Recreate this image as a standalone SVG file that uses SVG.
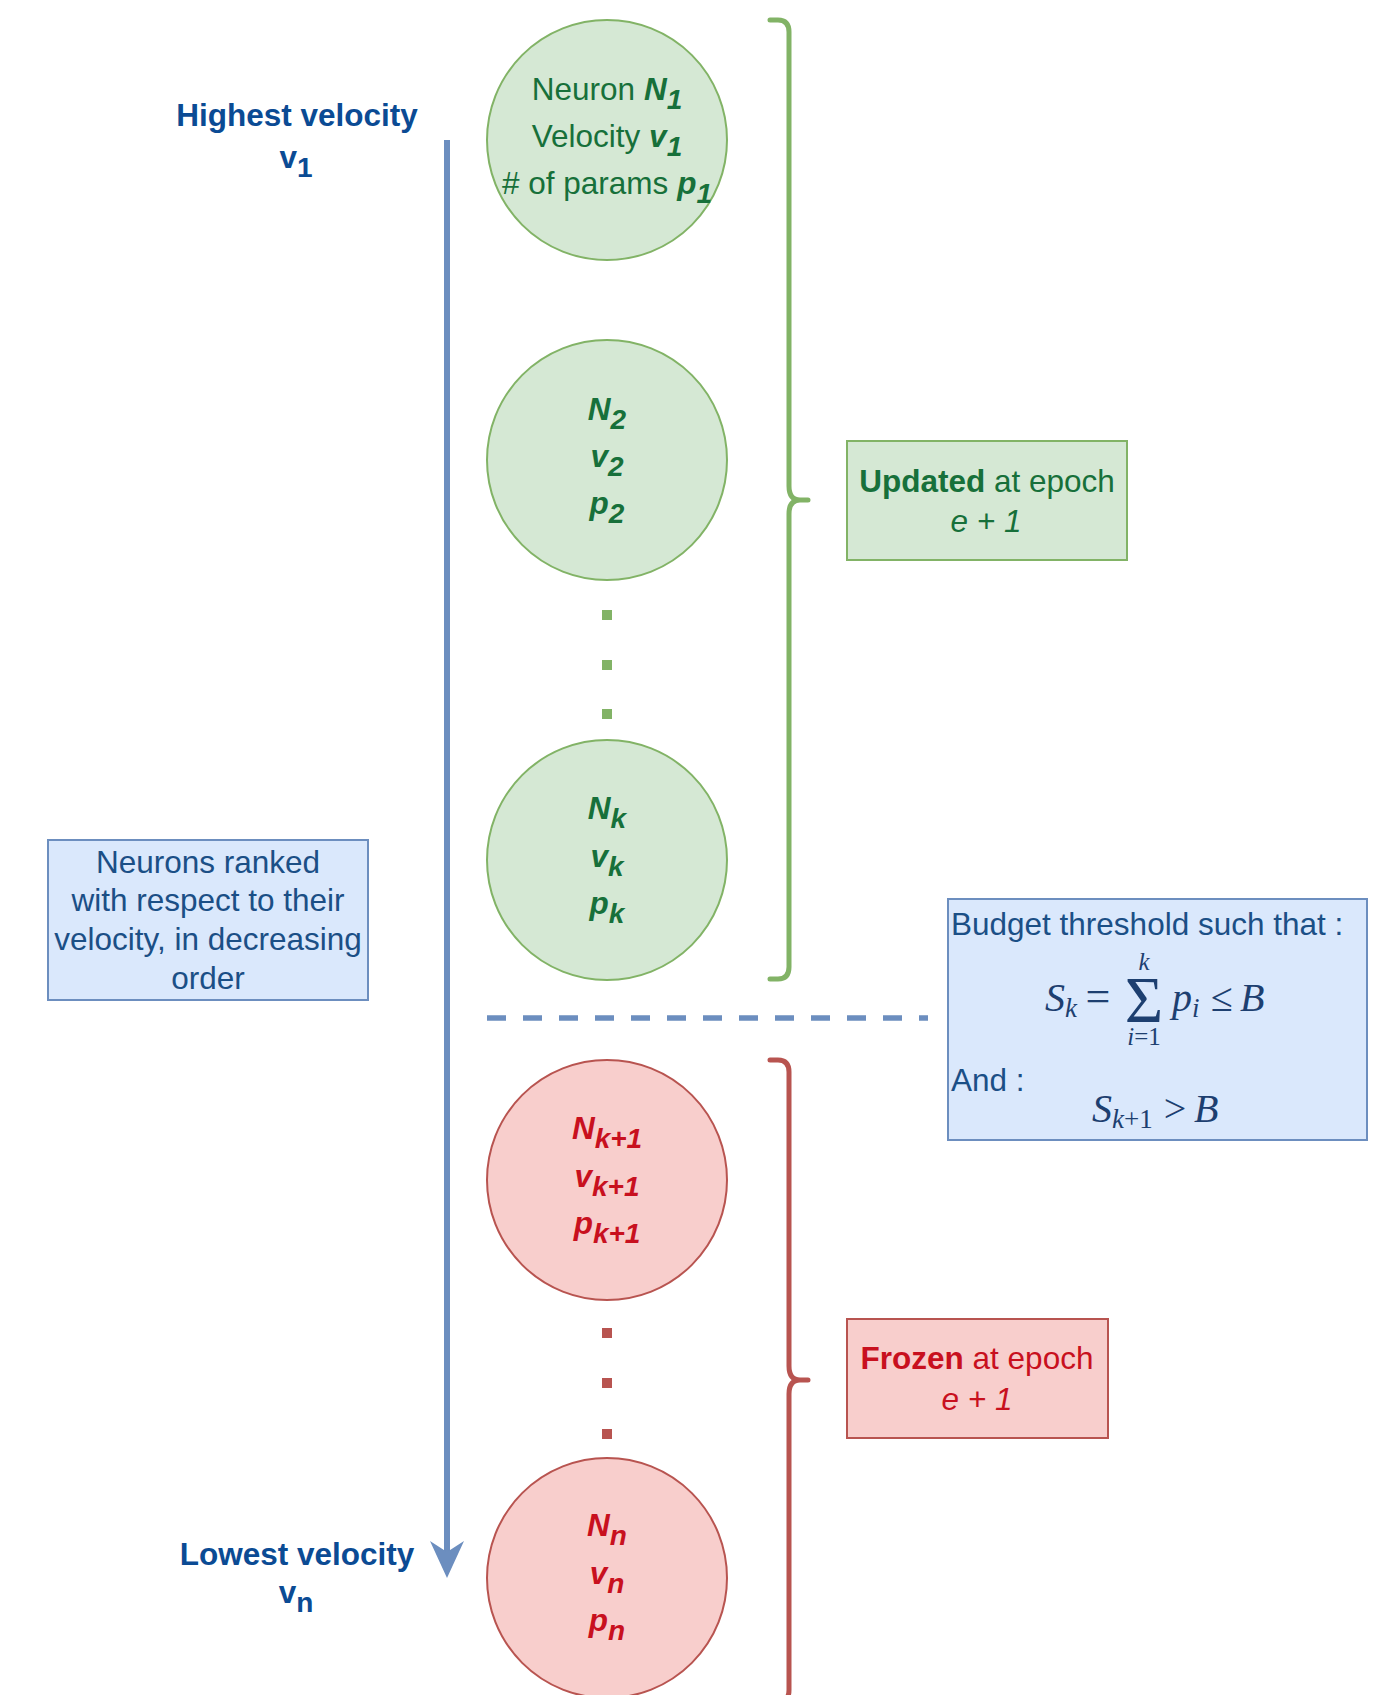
<svg xmlns="http://www.w3.org/2000/svg" width="1380" height="1695" viewBox="0 0 1380 1695">
  <style>
    .t{font-family:"Liberation Sans",Arial,sans-serif;font-size:31.5px}
    .c{text-anchor:middle}
    .g{fill:#17703a}
    .r{fill:#c8101e}
    .b{fill:#0b4b94}
    .bl{fill:#1b4f86}
    .bi{font-weight:bold;font-style:italic}
    .bo{font-weight:bold}
    .it{font-style:italic}
    .sub{font-size:28px}
    .m{font-family:"Liberation Serif","Times New Roman",serif;fill:#1d3f70;font-size:40px}
    .mi{font-style:italic}
    .ms{font-size:27px}
    .mlim{font-size:25px}
    .msum{font-size:66px}
    .meq{font-size:44px}
    .ngreen{fill:#d5e8d4;stroke:#82b366;stroke-width:2}
    .nred{fill:#f8cecc;stroke:#b85450;stroke-width:2}
    .bgreen{fill:#d5e8d4;stroke:#82b366;stroke-width:2}
    .bred{fill:#f8cecc;stroke:#b85450;stroke-width:2}
    .bblue{fill:#dae8fc;stroke:#6c8ebf;stroke-width:2}
    .brace{fill:none;stroke-width:5;stroke-linecap:round;stroke-linejoin:round}
  </style>

  <!-- ranking axis, threshold line and braces -->
  <g id="connectors">
    <line x1="447" y1="140" x2="447" y2="1552" stroke="#6c8ebf" stroke-width="6"/>
    <polygon points="430,1541 447,1552 464,1541 447,1578" fill="#6c8ebf"/>
    <line x1="487" y1="1018" x2="928" y2="1018" stroke="#6c8ebf" stroke-width="5.5" stroke-dasharray="19 17"/>
    <path class="brace" stroke="#82b366" d="M770,20 H778 Q789,20 789,32 V486 Q789,500 800,500 H808 M800,500 Q789,500 789,514 V967 Q789,979 778,979 H770"/>
    <path class="brace" stroke="#b85450" d="M770,1060 H778 Q789,1060 789,1072 V1366 Q789,1380 800,1380 H808 M800,1380 Q789,1380 789,1394 V1690 Q789,1702 778,1702 H770"/>
  </g>

  <g id="label-highest">
    <text class="t c b bo" x="297" y="126">Highest velocity</text>
    <text class="t c b bo" x="296" y="168">v<tspan class="sub" dy="9">1</tspan></text>
  </g>

  <g id="label-lowest">
    <text class="t c b bo" x="297" y="1565">Lowest velocity</text>
    <text class="t c b bo" x="296" y="1603">v<tspan class="sub" dy="9">n</tspan></text>
  </g>

  <g id="neuron-1">
    <circle class="ngreen" cx="607" cy="140" r="120"/>
    <text class="t c g" x="607" y="100">Neuron <tspan class="bi">N</tspan><tspan class="bi sub" dy="9">1</tspan></text>
    <text class="t c g" x="607" y="147">Velocity <tspan class="bi">v</tspan><tspan class="bi sub" dy="9">1</tspan></text>
    <text class="t c g" x="607" y="194"># of params <tspan class="bi">p</tspan><tspan class="bi sub" dy="9">1</tspan></text>
  </g>

  <g id="neuron-2">
    <circle class="ngreen" cx="607" cy="460" r="120"/>
    <text class="t c g bi" x="607" y="420">N<tspan class="sub" dy="9">2</tspan></text>
    <text class="t c g bi" x="607" y="467">v<tspan class="sub" dy="9">2</tspan></text>
    <text class="t c g bi" x="607" y="514">p<tspan class="sub" dy="9">2</tspan></text>
  </g>

  <g id="dots-green" fill="#82b366">
    <rect x="602" y="610" width="10" height="10"/>
    <rect x="602" y="660" width="10" height="10"/>
    <rect x="602" y="709" width="10" height="10"/>
  </g>

  <g id="neuron-k">
    <circle class="ngreen" cx="607" cy="860" r="120"/>
    <text class="t c g bi" x="607" y="819">N<tspan class="sub" dy="9">k</tspan></text>
    <text class="t c g bi" x="607" y="867">v<tspan class="sub" dy="9">k</tspan></text>
    <text class="t c g bi" x="607" y="914">p<tspan class="sub" dy="9">k</tspan></text>
  </g>

  <g id="neuron-k1">
    <circle class="nred" cx="607" cy="1180" r="120"/>
    <text class="t c r bi" x="607" y="1139">N<tspan class="sub" dy="9">k+1</tspan></text>
    <text class="t c r bi" x="607" y="1187">v<tspan class="sub" dy="9">k+1</tspan></text>
    <text class="t c r bi" x="607" y="1234">p<tspan class="sub" dy="9">k+1</tspan></text>
  </g>

  <g id="dots-red" fill="#b85450">
    <rect x="602" y="1328" width="10" height="10"/>
    <rect x="602" y="1378" width="10" height="10"/>
    <rect x="602" y="1429" width="10" height="10"/>
  </g>

  <g id="neuron-n">
    <circle class="nred" cx="607" cy="1578" r="120"/>
    <text class="t c r bi" x="607" y="1536">N<tspan class="sub" dy="9">n</tspan></text>
    <text class="t c r bi" x="607" y="1584">v<tspan class="sub" dy="9">n</tspan></text>
    <text class="t c r bi" x="607" y="1631">p<tspan class="sub" dy="9">n</tspan></text>
  </g>

  <g id="updated-box">
    <rect class="bgreen" x="847" y="441" width="280" height="119"/>
    <text class="t c g" x="987" y="492"><tspan class="bo">Updated</tspan> at epoch</text>
    <text class="t c g it" x="986" y="532">e + 1</text>
  </g>

  <g id="frozen-box">
    <rect class="bred" x="847" y="1319" width="261" height="119"/>
    <text class="t c r" x="977" y="1369"><tspan class="bo">Frozen</tspan> at epoch</text>
    <text class="t c r it" x="977" y="1410">e + 1</text>
  </g>

  <g id="ranking-note">
    <rect class="bblue" x="48" y="840" width="320" height="160"/>
    <text class="t c bl" x="208" y="873">Neurons ranked</text>
    <text class="t c bl" x="208" y="911">with respect to their</text>
    <text class="t c bl" x="208" y="950">velocity, in decreasing</text>
    <text class="t c bl" x="208" y="989">order</text>
  </g>

  <g id="budget-note">
    <rect class="bblue" x="948" y="899" width="419" height="241"/>
    <text class="t bl" x="951" y="935">Budget threshold such that :</text>
    <!-- S_k = sum_{i=1}^{k} p_i <= B -->
    <text class="m mi" x="1045" y="1011">S<tspan class="ms" dy="6">k</tspan></text>
    <text class="m meq c" x="1098" y="1011">=</text>
    <text class="m msum c" x="1144" y="1022">Σ</text>
    <text class="m mi mlim c" x="1144" y="970">k</text>
    <text class="m mlim c" x="1144" y="1045"><tspan class="mi">i</tspan>=1</text>
    <text class="m mi" x="1172" y="1011">p<tspan class="ms" dy="6">i</tspan></text>
    <text class="m c" x="1222" y="1011">≤</text>
    <text class="m mi" x="1240" y="1011">B</text>
    <text class="t bl" x="951" y="1091">And :</text>
    <!-- S_{k+1} > B -->
    <text class="m mi" x="1092" y="1122">S<tspan class="ms" dy="6">k</tspan><tspan class="ms" font-style="normal">+1</tspan></text>
    <text class="m c" x="1175" y="1122">&gt;</text>
    <text class="m mi" x="1194" y="1122">B</text>
  </g>
</svg>
